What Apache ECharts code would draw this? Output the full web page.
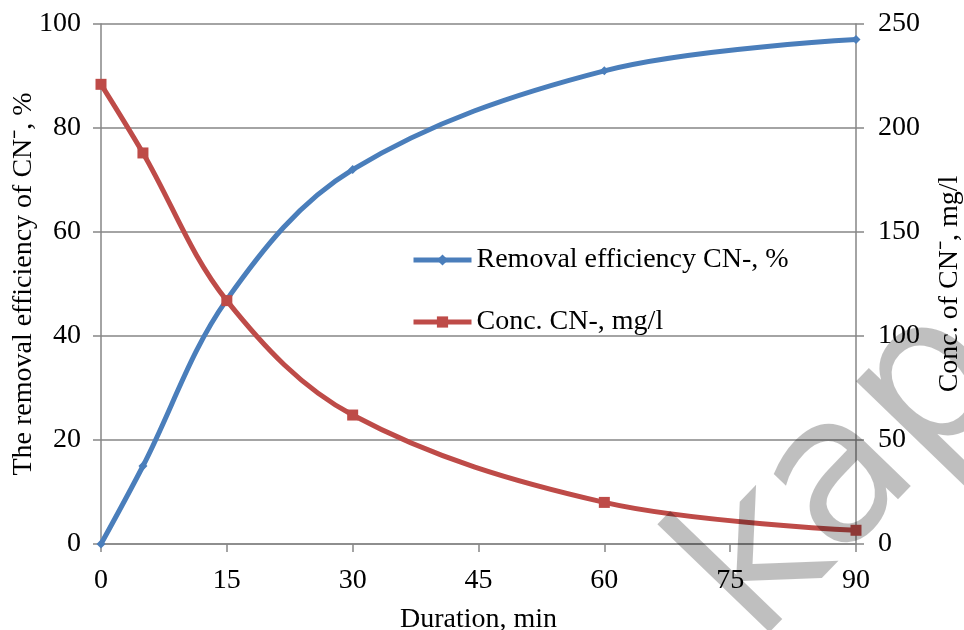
<!DOCTYPE html>
<html>
<head>
<meta charset="utf-8">
<script src="https://cdn.jsdelivr.net/npm/echarts@6/dist/echarts.min.js"></script>
<style>
  html, body { margin: 0; padding: 0; background: #fff; }
  #main { width: 964px; height: 630px; }
</style>
</head>
<body>
<div id="main"></div>
<script>
var duration = [0, 5, 15, 30, 60, 90];
var removalEff = [0, 15, 47, 72, 91, 97];
var concCN = [221, 188, 117, 62, 20, 6.6];
var xTicks = [0, 15, 30, 45, 60, 75, 90];

var font = 'Liberation Serif';
var gridGray = '#868686';

function pairs(xs, ys) {
  var out = [];
  for (var i = 0; i < xs.length; i++) out.push([xs[i], ys[i]]);
  return out;
}

var chart = echarts.init(document.getElementById('main'));
var option = {
  backgroundColor: '#fff',
  animation: false,
  textStyle: { fontFamily: font, color: '#000' },
  grid: { left: 101, right: 108, top: 24, bottom: 86, outerBoundsMode: 'none', containLabel: false },
  legend: {
    orient: 'vertical',
    left: 406,
    top: 241,
    itemWidth: 58,
    itemHeight: 14,
    itemGap: 34,
    lineStyle: { width: 5 },
    textStyle: { fontFamily: font, fontSize: 28, color: '#000' },
    data: ['Removal efficiency CN-, %', 'Conc. CN-, mg/l']
  },
  xAxis: {
    type: 'value',
    min: 0,
    max: 90,
    interval: 15,
    name: 'Duration, min',
    nameLocation: 'middle',
    nameGap: 62,
    nameMoveOverlap: false,
    nameTextStyle: { fontFamily: font, fontSize: 28, color: '#000' },
    axisLine: { lineStyle: { color: gridGray, width: 1.5 } },
    axisTick: { show: true, length: 8, lineStyle: { color: gridGray, width: 1.5 } },
    axisLabel: { fontFamily: font, fontSize: 28, color: '#000', margin: 23 },
    splitLine: { show: false }
  },
  yAxis: [
    {
      type: 'value',
      min: 0,
      max: 100,
      interval: 20,
      name: 'The removal efficiency of CN\u207B, %',
      nameLocation: 'middle',
      nameRotate: 90,
      nameGap: 63,
      nameMoveOverlap: false,
      nameTextStyle: { fontFamily: font, fontSize: 28, color: '#000' },
      axisLine: { show: true, lineStyle: { color: gridGray, width: 1.5 } },
      axisTick: { show: true, length: 8, lineStyle: { color: gridGray, width: 1.5 } },
      axisLabel: { fontFamily: font, fontSize: 28, color: '#000', margin: 20 },
      splitLine: { show: true, lineStyle: { color: gridGray, width: 1.5 } }
    },
    {
      type: 'value',
      min: 0,
      max: 250,
      interval: 50,
      position: 'right',
      name: 'Conc. of CN\u207B, mg/l',
      nameLocation: 'middle',
      nameRotate: 90,
      nameGap: 80,
      nameMoveOverlap: false,
      nameTextStyle: { fontFamily: font, fontSize: 28, color: '#000' },
      axisLine: { show: true, lineStyle: { color: gridGray, width: 1.5 } },
      axisTick: { show: true, length: 8, lineStyle: { color: gridGray, width: 1.5 } },
      axisLabel: { fontFamily: font, fontSize: 28, color: '#000', margin: 22 },
      splitLine: { show: false }
    }
  ],
  series: [
    {
      name: 'Removal efficiency CN-, %',
      type: 'line',
      yAxisIndex: 0,
      data: pairs(duration, removalEff),
      smooth: 0.35,
      symbol: 'diamond',
      symbolSize: 9,
      itemStyle: { color: '#4A7EBB' },
      lineStyle: { color: '#4A7EBB', width: 5 }
    },
    {
      name: 'Conc. CN-, mg/l',
      type: 'line',
      yAxisIndex: 1,
      data: pairs(duration, concCN),
      smooth: 0.35,
      symbol: 'rect',
      symbolSize: 11,
      itemStyle: { color: '#BE4B48' },
      lineStyle: { color: '#BE4B48', width: 5 }
    }
  ],
  graphic: [
    {
      type: 'text',
      x: 792,
      y: 680,
      rotation: 46 * Math.PI / 180,
      z: 100,
      silent: true,
      style: {
        text: 'kap',
        font: '205px "DejaVu Sans"',
        fill: 'rgba(0,0,0,0.25)',
        textAlign: 'left',
        textVerticalAlign: 'bottom'
      }
    }
  ]
};
chart.setOption(option);
</script>
</body>
</html>
